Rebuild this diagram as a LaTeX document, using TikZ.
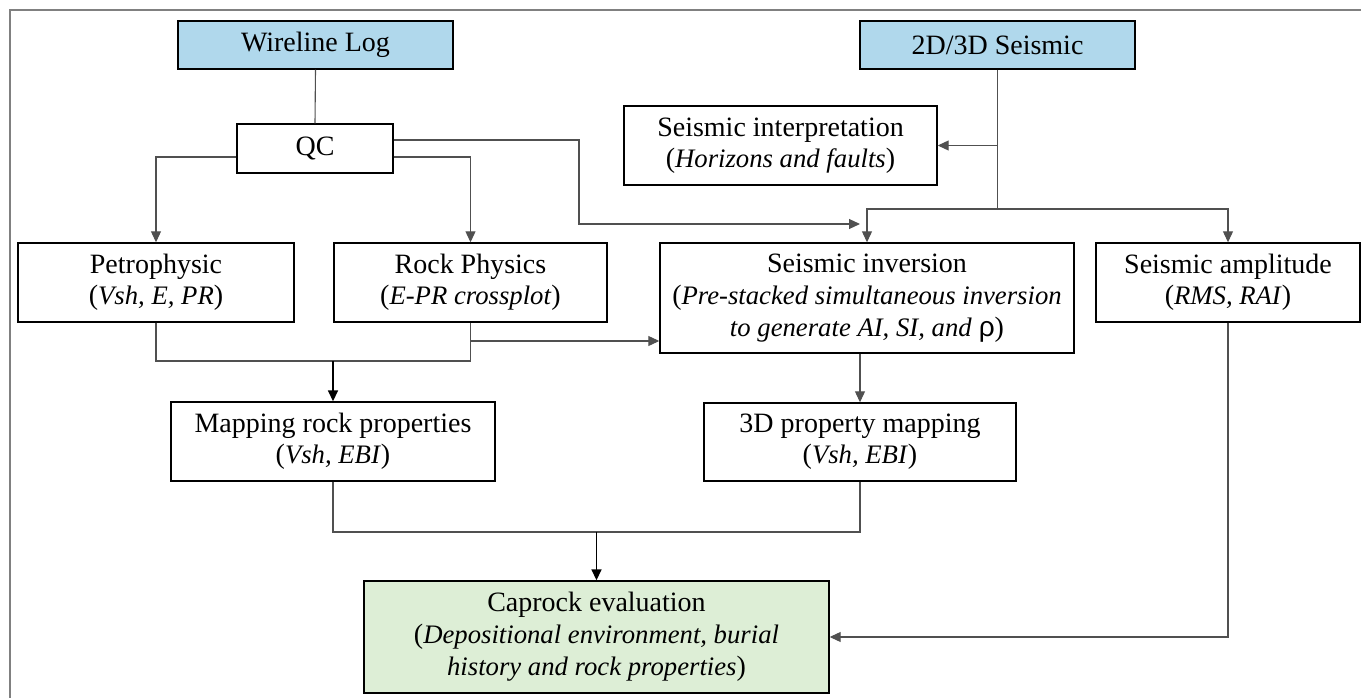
\documentclass[tikz,border=0pt]{standalone}
\usepackage{fontspec}
\setmainfont{Liberation Serif}
\newfontfamily\rhofont{Liberation Sans}
\usetikzlibrary{arrows.meta,calc}
\definecolor{boxblue}{HTML}{B0D8EC}
\definecolor{boxgreen}{HTML}{DDEED6}
\definecolor{framegray}{HTML}{808080}
\definecolor{linegray}{HTML}{505050}
\newcommand{\itx}[1]{{\fontsize{26.7}{31}\selectfont\itshape #1\/}}
\tikzset{
  box/.style={draw=black, line width=1.4pt, align=center, inner sep=0pt,
    font=\fontsize{28}{31}\selectfont},
  conn/.style={draw=linegray, line width=1.1pt},
  arr/.style={conn, -{Triangle[length=11pt,width=10pt]}},
  thickarr/.style={draw=black, line width=1.6pt, -{Triangle[length=11pt,width=10pt]}},
}
\begin{document}
\begin{tikzpicture}[x=1pt,y=-1pt]
\useasboundingbox (0,0) rectangle (1361,698);
\draw[framegray, line width=1.5pt] (10,698) -- (10,10) -- (1361,10);

\node[box, fill=boxblue, minimum width=275pt, minimum height=48pt] (wl) at (315.5,45) {Wireline Log};
\node[box, fill=boxblue, minimum width=275pt, minimum height=48pt] (seis) at (997.5,45) {2D/3D Seismic};
\node[box, minimum width=156pt, minimum height=49pt] (qc) at (315,148.5) {QC};
\node[box, minimum width=313pt, minimum height=79pt] (interp) at (780.5,145.5) {Seismic interpretation\\(\itx{Horizons and faults})};
\node[box, minimum width=276pt, minimum height=79pt] (petro) at (156,282.5) {Petrophysic\\(\itx{Vsh, E, PR})};
\node[box, minimum width=273pt, minimum height=79pt] (rock) at (470.5,282.5) {Rock Physics\\(\itx{E-PR crossplot})};
\node[box, minimum width=414pt, minimum height=110pt] (inv) at (867,298) {Seismic inversion\\[1pt](\itx{Pre-stacked simultaneous inversion}\\[1pt]\itx{to generate AI, SI, and} {\rhofont ρ})};
\node[box, minimum width=264pt, minimum height=79pt] (amp) at (1228,282.5) {Seismic amplitude\\(\itx{RMS, RAI})};
\node[box, minimum width=324pt, minimum height=79pt] (map) at (333,441.5) {Mapping rock properties\\(\itx{Vsh, EBI})};
\node[box, minimum width=312pt, minimum height=78pt] (p3d) at (860,442) {3D property mapping\\(\itx{Vsh, EBI})};
\node[box, fill=boxgreen, minimum width=465pt, minimum height=112pt] (cap) at (596.5,637) {Caprock evaluation\\[1pt](\itx{Depositional environment, burial}\\[1pt]\itx{history and rock properties})};

% Wireline -> QC
\draw[conn] (wl.south) -- (qc.north);
% QC -> Petrophysic, Rock Physics
\draw[arr] ($(qc.west)+(0,8.5)$) -| (petro.north);
\draw[arr] ($(qc.east)+(0,8.5)$) -| (rock.north);
% QC -> inversion
\coordinate (qcj) at (579,224);
\coordinate (qce) at (860,224);
\draw[arr] ($(qc.east)+(0,-8.5)$) -| (qcj) -- (qce);
% Seismic branches
\coordinate (sj) at (997.5,209);
\draw[conn] (seis.south) -- (sj);
\draw[arr] (seis.south |- interp.east) -- (interp.east);
\draw[arr] (sj) -| (inv.north);
\draw[arr] (sj) -| (amp.north);
% Petro + Rock -> Mapping
\coordinate (mj) at (333,361);
\draw[conn] (petro.south) |- (mj) -| (rock.south);
\draw[thickarr] (mj) -- (map.north);
% Rock -> inversion
\coordinate (ri) at ($(inv.west)+(0,43)$);
\draw[arr] (rock.south |- ri) -- (ri);
% inversion -> 3D mapping
\draw[arr] (p3d.north |- inv.south) -- (p3d.north);
% Mapping + 3D -> Caprock
\coordinate (cj) at (596.5,532);
\draw[conn] (map.south) |- (cj) -| (p3d.south);
\draw[thickarr] (cj) -- (cap.north);
% Amplitude -> Caprock
\draw[arr] (amp.south) |- (cap.east);
\end{tikzpicture}
\end{document}
